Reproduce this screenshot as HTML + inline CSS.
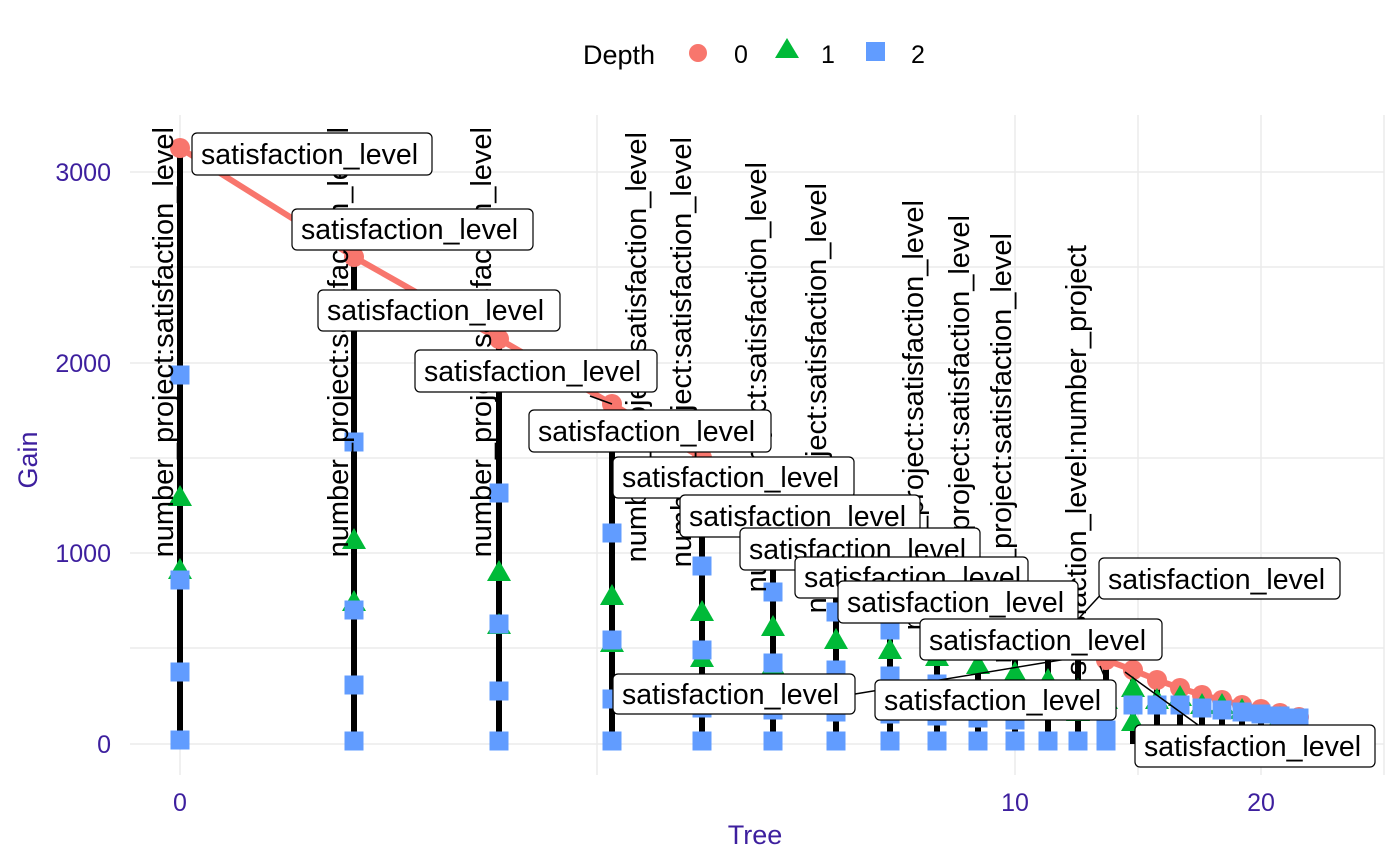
<!DOCTYPE html>
<html><head><meta charset="utf-8"><style>
html,body{margin:0;padding:0;background:#fff;}
svg{display:block;font-family:"Liberation Sans",Arial,sans-serif;}
</style></head><body>
<svg width="1400" height="866" viewBox="0 0 1400 866" xmlns="http://www.w3.org/2000/svg">
<defs>
<rect id="sq" x="-9.5" y="-9.5" width="19" height="19" fill="#619CFF"/>
<polygon id="tr" points="0,-12 12,9 -12,9" fill="#00BA38"/>
</defs>
<g stroke="#ebebeb" stroke-width="1.5">
<line x1="130" y1="172" x2="1384" y2="172"/><line x1="130" y1="267" x2="1384" y2="267"/>
<line x1="130" y1="363" x2="1384" y2="363"/><line x1="130" y1="458" x2="1384" y2="458"/>
<line x1="130" y1="553" x2="1384" y2="553"/><line x1="130" y1="648" x2="1384" y2="648"/>
<line x1="130" y1="744" x2="1384" y2="744"/>
<line x1="180" y1="115" x2="180" y2="775"/><line x1="597" y1="115" x2="597" y2="775"/>
<line x1="1015" y1="115" x2="1015" y2="775"/><line x1="1138" y1="115" x2="1138" y2="775"/>
<line x1="1261" y1="115" x2="1261" y2="775"/><line x1="1384" y1="115" x2="1384" y2="775"/>
</g>
<g stroke="#000" stroke-width="6">
<line x1="180" y1="148" x2="180" y2="744"/><line x1="354" y1="257" x2="354" y2="744"/>
<line x1="499" y1="339" x2="499" y2="744"/><line x1="612" y1="404" x2="612" y2="744"/>
<line x1="702" y1="458" x2="702" y2="744"/><line x1="773" y1="497" x2="773" y2="744"/>
<line x1="836" y1="530" x2="836" y2="744"/><line x1="890" y1="560" x2="890" y2="744"/>
<line x1="937" y1="585" x2="937" y2="744"/><line x1="978" y1="605" x2="978" y2="744"/>
<line x1="1015" y1="622" x2="1015" y2="744"/><line x1="1048" y1="637" x2="1048" y2="744"/>
<line x1="1078" y1="650" x2="1078" y2="744"/><line x1="1106" y1="660" x2="1106" y2="744"/>
<line x1="1133" y1="670" x2="1133" y2="744"/><line x1="1157" y1="680" x2="1157" y2="744"/>
<line x1="1180" y1="688" x2="1180" y2="744"/><line x1="1202" y1="695" x2="1202" y2="744"/>
<line x1="1222" y1="700" x2="1222" y2="744"/><line x1="1242" y1="705" x2="1242" y2="744"/>
<line x1="1261" y1="709" x2="1261" y2="744"/><line x1="1280" y1="713" x2="1280" y2="744"/>
<line x1="1299" y1="717" x2="1299" y2="744"/>
</g>
<polyline fill="none" stroke="#F8766D" stroke-width="6" points="180,148 354,257 499,339 612,404 702,458 773,497 836,530 890,560 937,585 978,605 1015,622 1048,637 1078,650 1106,660 1133,670 1157,680 1180,688 1202,695 1222,700 1242,705 1261,709 1280,713 1299,717"/>
<g fill="#F8766D">
<circle cx="180" cy="148" r="10"/><circle cx="354" cy="257" r="10"/><circle cx="499" cy="339" r="10"/>
<circle cx="612" cy="404" r="10"/><circle cx="702" cy="458" r="10"/><circle cx="773" cy="497" r="10"/>
<circle cx="836" cy="530" r="10"/><circle cx="890" cy="560" r="10"/><circle cx="937" cy="585" r="10"/>
<circle cx="978" cy="605" r="10"/><circle cx="1015" cy="622" r="10"/><circle cx="1048" cy="637" r="10"/>
<circle cx="1078" cy="650" r="10"/><circle cx="1106" cy="660" r="10"/><circle cx="1133" cy="670" r="10"/>
<circle cx="1157" cy="680" r="10"/><circle cx="1180" cy="688" r="10"/><circle cx="1202" cy="695" r="10"/>
<circle cx="1222" cy="700" r="10"/><circle cx="1242" cy="705" r="10"/><circle cx="1261" cy="709" r="10"/>
<circle cx="1280" cy="713" r="10"/><circle cx="1299" cy="717" r="10"/>
</g>
<use href="#tr" x="180" y="497"/><use href="#tr" x="180" y="570"/>
<use href="#tr" x="354" y="540"/><use href="#tr" x="354" y="602"/>
<use href="#tr" x="499" y="572"/><use href="#tr" x="499" y="625"/>
<use href="#tr" x="612" y="596"/><use href="#tr" x="612" y="643"/>
<use href="#tr" x="702" y="612"/><use href="#tr" x="702" y="658"/>
<use href="#tr" x="773" y="627"/><use href="#tr" x="773" y="666"/>
<use href="#tr" x="836" y="640"/><use href="#tr" x="836" y="672"/>
<use href="#tr" x="890" y="650"/><use href="#tr" x="890" y="680"/>
<use href="#tr" x="937" y="657"/><use href="#tr" x="937" y="686"/>
<use href="#tr" x="978" y="665"/><use href="#tr" x="978" y="692"/>
<use href="#tr" x="1015" y="673"/><use href="#tr" x="1015" y="698"/>
<use href="#tr" x="1048" y="680"/><use href="#tr" x="1048" y="702"/>
<use href="#tr" x="1078" y="690"/><use href="#tr" x="1078" y="712"/>
<use href="#tr" x="1106" y="700"/><use href="#tr" x="1133" y="688"/><use href="#tr" x="1133" y="722"/>
<use href="#tr" x="1157" y="700"/><use href="#tr" x="1180" y="697"/><use href="#tr" x="1202" y="705"/>
<use href="#tr" x="1222" y="705"/><use href="#tr" x="1242" y="710"/><use href="#tr" x="1280" y="718"/>
<use href="#tr" x="1299" y="720"/>
<use href="#sq" x="180" y="375"/><use href="#sq" x="180" y="580"/><use href="#sq" x="180" y="672"/><use href="#sq" x="180" y="740"/>
<use href="#sq" x="354" y="442"/><use href="#sq" x="354" y="610"/><use href="#sq" x="354" y="685"/><use href="#sq" x="354" y="741"/>
<use href="#sq" x="499" y="493"/><use href="#sq" x="499" y="624"/><use href="#sq" x="499" y="691"/><use href="#sq" x="499" y="741"/>
<use href="#sq" x="612" y="533"/><use href="#sq" x="612" y="640"/><use href="#sq" x="612" y="699"/><use href="#sq" x="612" y="741"/>
<use href="#sq" x="702" y="566"/><use href="#sq" x="702" y="650"/><use href="#sq" x="702" y="708"/><use href="#sq" x="702" y="741"/>
<use href="#sq" x="773" y="592"/><use href="#sq" x="773" y="663"/><use href="#sq" x="773" y="710"/><use href="#sq" x="773" y="741"/>
<use href="#sq" x="836" y="612"/><use href="#sq" x="836" y="670"/><use href="#sq" x="836" y="712"/><use href="#sq" x="836" y="741"/>
<use href="#sq" x="890" y="630"/><use href="#sq" x="890" y="676"/><use href="#sq" x="890" y="714"/><use href="#sq" x="890" y="741"/>
<use href="#sq" x="937" y="640"/><use href="#sq" x="937" y="684"/><use href="#sq" x="937" y="716"/><use href="#sq" x="937" y="741"/>
<use href="#sq" x="978" y="690"/><use href="#sq" x="978" y="718"/><use href="#sq" x="978" y="741"/>
<use href="#sq" x="1015" y="695"/><use href="#sq" x="1015" y="720"/><use href="#sq" x="1015" y="741"/>
<use href="#sq" x="1048" y="700"/><use href="#sq" x="1048" y="741"/>
<use href="#sq" x="1078" y="700"/><use href="#sq" x="1078" y="741"/>
<use href="#sq" x="1106" y="730"/><use href="#sq" x="1106" y="741"/>
<use href="#sq" x="1133" y="705"/><use href="#sq" x="1157" y="705"/><use href="#sq" x="1180" y="705"/>
<use href="#sq" x="1202" y="708"/><use href="#sq" x="1222" y="710"/><use href="#sq" x="1242" y="712"/>
<use href="#sq" x="1261" y="714"/><use href="#sq" x="1280" y="716"/><use href="#sq" x="1299" y="718"/>
<g font-size="29" fill="#000" text-anchor="end">
<text transform="translate(173,127) rotate(-90)">number_project:satisfaction_level</text>
<text transform="translate(348,127) rotate(-90)">number_project:satisfaction_level</text>
<text transform="translate(491,127) rotate(-90)">number_project:satisfaction_level</text>
<text transform="translate(646,132) rotate(-90)">number_project:satisfaction_level</text>
<text transform="translate(691,137) rotate(-90)">number_project:satisfaction_level</text>
<text transform="translate(766,162) rotate(-90)">number_project:satisfaction_level</text>
<text transform="translate(826,183) rotate(-90)">number_project:satisfaction_level</text>
<text transform="translate(923,200) rotate(-90)">number_project:satisfaction_level</text>
<text transform="translate(969,215) rotate(-90)">number_project:satisfaction_level</text>
<text transform="translate(1011,233) rotate(-90)">number_project:satisfaction_level</text>
<text transform="translate(1086,245) rotate(-90)">satisfaction_level:number_project</text>
</g>
<g stroke="#000" stroke-width="1.5">
<line x1="1105" y1="590" x2="1045" y2="655"/>
<line x1="855" y1="694" x2="1085" y2="656"/>
<line x1="1110" y1="690" x2="1100" y2="666"/>
<line x1="1205" y1="730" x2="1125" y2="672"/>
<line x1="590" y1="396" x2="612" y2="404"/>
</g>
<g font-size="28.5" fill="#000">
<g><rect x="192" y="133" width="240" height="42" rx="5" fill="#fff" stroke="#000" stroke-width="1.2"/><text x="201" y="164">satisfaction_level</text></g>
<g><rect x="292" y="209" width="241" height="41" rx="5" fill="#fff" stroke="#000" stroke-width="1.2"/><text x="301" y="239">satisfaction_level</text></g>
<g><rect x="318" y="290" width="242" height="41" rx="5" fill="#fff" stroke="#000" stroke-width="1.2"/><text x="327" y="320">satisfaction_level</text></g>
<g><rect x="415" y="350" width="242" height="42" rx="5" fill="#fff" stroke="#000" stroke-width="1.2"/><text x="424" y="381">satisfaction_level</text></g>
<g><rect x="529" y="410" width="242" height="42" rx="5" fill="#fff" stroke="#000" stroke-width="1.2"/><text x="538" y="441">satisfaction_level</text></g>
<g><rect x="613" y="457" width="241" height="41" rx="5" fill="#fff" stroke="#000" stroke-width="1.2"/><text x="622" y="487">satisfaction_level</text></g>
<g><rect x="680" y="495" width="240" height="42" rx="5" fill="#fff" stroke="#000" stroke-width="1.2"/><text x="689" y="526">satisfaction_level</text></g>
<g><rect x="740" y="528" width="240" height="42" rx="5" fill="#fff" stroke="#000" stroke-width="1.2"/><text x="749" y="559">satisfaction_level</text></g>
<g><rect x="795" y="557" width="233" height="41" rx="5" fill="#fff" stroke="#000" stroke-width="1.2"/><text x="804" y="587">satisfaction_level</text></g>
<g><rect x="838" y="581" width="240" height="42" rx="5" fill="#fff" stroke="#000" stroke-width="1.2"/><text x="847" y="612">satisfaction_level</text></g>
<g><rect x="1099" y="558" width="241" height="41" rx="5" fill="#fff" stroke="#000" stroke-width="1.2"/><text x="1108" y="589">satisfaction_level</text></g>
<g><rect x="920" y="619" width="242" height="41" rx="5" fill="#fff" stroke="#000" stroke-width="1.2"/><text x="929" y="650">satisfaction_level</text></g>
<g><rect x="613" y="674" width="242" height="40" rx="5" fill="#fff" stroke="#000" stroke-width="1.2"/><text x="622" y="704">satisfaction_level</text></g>
<g><rect x="875" y="680" width="241" height="40" rx="5" fill="#fff" stroke="#000" stroke-width="1.2"/><text x="884" y="710">satisfaction_level</text></g>
<g><rect x="1135" y="725" width="240" height="42" rx="5" fill="#fff" stroke="#000" stroke-width="1.2"/><text x="1144" y="756">satisfaction_level</text></g>
</g>
<g font-size="25" fill="#3d1f9e">
<g text-anchor="end"><text x="111" y="181">3000</text><text x="111" y="372">2000</text><text x="111" y="562">1000</text><text x="111" y="753">0</text></g>
<g text-anchor="middle"><text x="180" y="811">0</text><text x="1015" y="811">10</text><text x="1261" y="811">20</text>
<text x="755" y="844" font-size="27">Tree</text>
<text transform="translate(37,460) rotate(-90)" font-size="27">Gain</text></g>
</g>
<g font-size="27" fill="#000">
<text x="583" y="64">Depth</text>
<circle cx="698" cy="53" r="9" fill="#F8766D"/>
<text x="734" y="63" font-size="25">0</text>
<polygon points="787,38 799,58 775,58" fill="#00BA38"/>
<text x="821" y="63" font-size="25">1</text>
<rect x="866" y="42" width="19" height="19" fill="#619CFF"/>
<text x="911" y="63" font-size="25">2</text>
</g>
</svg>
</body></html>
